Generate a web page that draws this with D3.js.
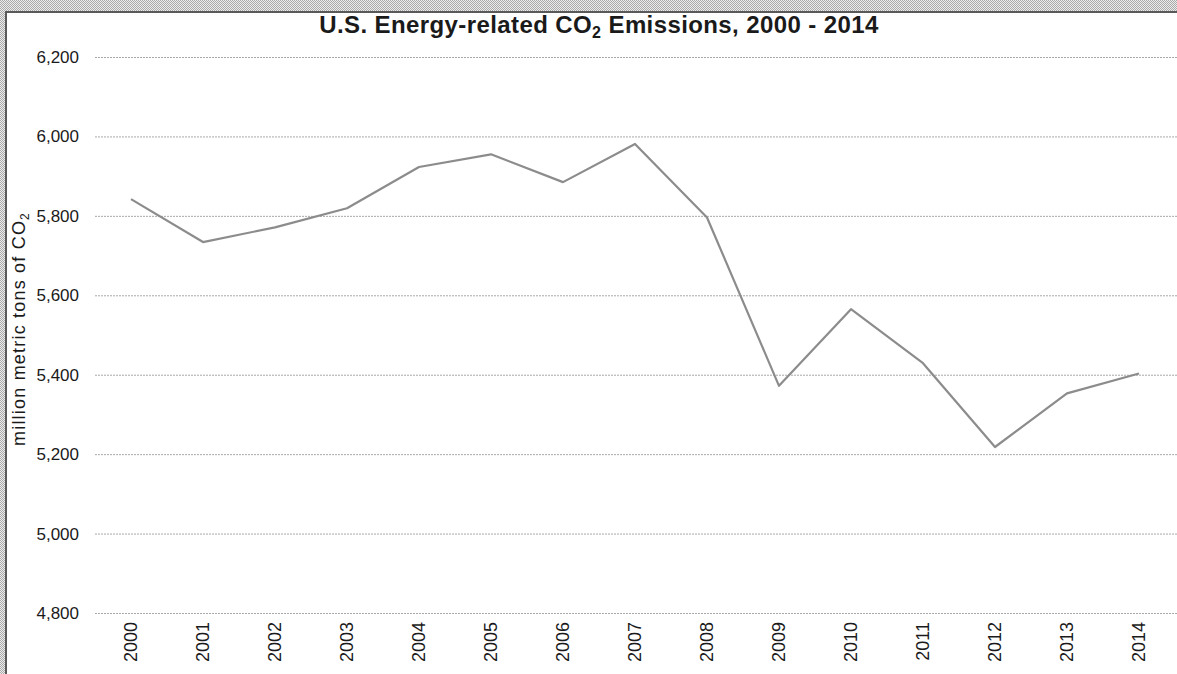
<!DOCTYPE html>
<meta charset="utf-8">
<style>
    body { margin: 0; }
    text { font-family: Arial, "Liberation Sans", sans-serif; fill: #1a1a1a; }
    .grid line { stroke: #a8a8a8; stroke-width: 1px; stroke-dasharray: 2,1; }
    .grid path, .xaxis path, .xaxis line { display: none; }
    .chartTitle { font-size: 24px; font-weight: bold; text-anchor: middle; letter-spacing: 0.4px; }
    .valueline { fill: none; stroke: #8c8c8c; stroke-width: 2.2px; stroke-linejoin: round; }
</style>
<body>
<script src="https://cdnjs.cloudflare.com/ajax/libs/d3/7.8.5/d3.min.js"></script>
<script>
    // data
    var years = ["2000", "2001", "2002", "2003", "2004", "2005", "2006", "2007",
                 "2008", "2009", "2010", "2011", "2012", "2013", "2014"];
    var emissions = [5842, 5734, 5771, 5819, 5923, 5955, 5885, 5981,
                     5796, 5372, 5565, 5429, 5218, 5353, 5403];
    var yTicks = [4800, 5000, 5200, 5400, 5600, 5800, 6000, 6200];

    var width = 1177, height = 674;

    var svg = d3.select("body").append("svg")
        .attr("width", width)
        .attr("height", height);

    // checkered frame background
    var pat = svg.append("defs").append("pattern")
        .attr("id", "checker")
        .attr("width", 2).attr("height", 2)
        .attr("patternUnits", "userSpaceOnUse");
    pat.append("rect").attr("width", 2).attr("height", 2).attr("fill", "#ececec");
    pat.append("rect").attr("width", 1).attr("height", 1).attr("fill", "#a9a9a9");
    pat.append("rect").attr("x", 1).attr("y", 1).attr("width", 1).attr("height", 1).attr("fill", "#a9a9a9");

    svg.append("rect").attr("width", width).attr("height", height).attr("fill", "url(#checker)");
    svg.append("rect")
        .attr("x", 6).attr("y", 12)
        .attr("width", width + 10).attr("height", height + 10)
        .attr("fill", "#fff")
        .attr("stroke", "#5a5a5a")
        .attr("stroke-width", 2);

    // scales
    var x = d3.scaleBand().domain(years).range([95, 1175]);
    var y = d3.scaleLinear().domain([4800, 6200]).range([613, 57]);

    // gridlines + y tick labels
    svg.append("g")
        .attr("class", "grid")
        .attr("transform", "translate(95,0)")
        .call(d3.axisLeft(y).tickValues(yTicks).tickSize(-1085).tickPadding(16).tickFormat(d3.format(",")))
        .selectAll("text")
        .style("font-size", "17px")
        .attr("fill", "#1a1a1a");

    // x axis labels, rotated
    svg.append("g")
        .attr("class", "xaxis")
        .attr("transform", "translate(0,613)")
        .call(d3.axisBottom(x).tickSize(0))
        .selectAll("text")
        .style("font-size", "18px")
        .attr("fill", "#1a1a1a")
        .style("text-anchor", "end")
        .attr("x", -9)
        .attr("y", 0)
        .attr("dy", "0.35em")
        .attr("transform", "rotate(-90)");

    // the line
    var valueline = d3.line()
        .x(function(d, i) { return x(years[i]) + x.bandwidth() / 2; })
        .y(function(d) { return y(d); });

    svg.append("path")
        .datum(emissions)
        .attr("class", "valueline")
        .attr("d", valueline);

    // title
    var title = svg.append("text")
        .attr("class", "chartTitle")
        .attr("x", 599)
        .attr("y", 33);
    title.append("tspan").text("U.S. Energy-related CO");
    title.append("tspan").text("2").attr("font-size", "16px").attr("dy", 5);
    title.append("tspan").text(" Emissions, 2000 - 2014").attr("dy", -5);

    // y axis label
    var ylab = svg.append("text")
        .attr("transform", "translate(25,329) rotate(-90)")
        .attr("text-anchor", "middle")
        .style("font-size", "18px")
        .style("letter-spacing", "1.2px");
    ylab.append("tspan").text("million metric tons of CO");
    ylab.append("tspan").text("2").attr("font-size", "12px").attr("dy", 4);
</script>
</body>
